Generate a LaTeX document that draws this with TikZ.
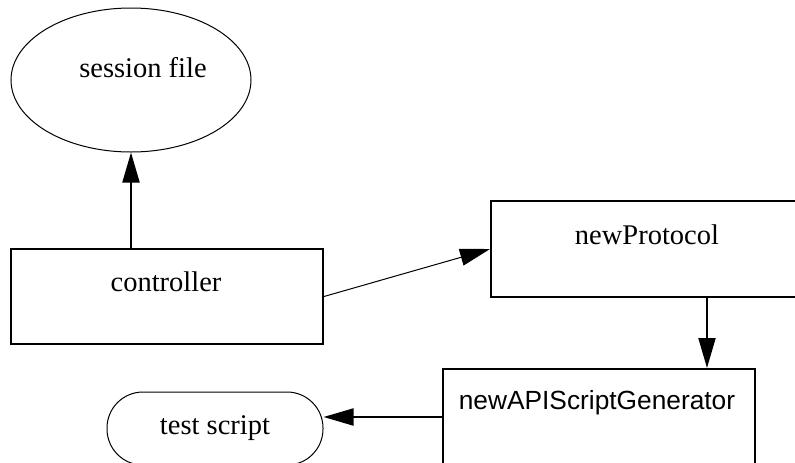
\documentclass[tikz,border=0pt]{standalone}
\usepackage{fontspec}
\setmainfont{Liberation Serif}
\setsansfont{Liberation Sans}
\usetikzlibrary{arrows.meta,shapes.geometric}
\tikzset{
  thickbox/.style={draw, line width=2pt, rectangle, inner sep=0pt},
  thinshape/.style={draw, line width=1pt, inner sep=0pt},
  lbl/.style={inner sep=0pt, font=\fontsize{28.5}{33}\selectfont},
  sanslbl/.style={inner sep=0pt, font=\sffamily\fontsize{26.3}{31}\selectfont},
  tip/.style={-{Triangle[length=30pt,width=17pt]}},
  heavy/.style={line width=2pt, tip},
  light/.style={line width=1pt, tip}
}
\begin{document}
\begin{tikzpicture}[x=1pt,y=-1pt]
\clip (0,0) rectangle (795,463);
\fill[white] (0,0) rectangle (795,463);
% nodes
\node[thinshape, ellipse, minimum width=240pt, minimum height=144pt] (sess) at (131,80) {};
\node[lbl] (sesst) at (143,68) {session file};
\node[thickbox, minimum width=312pt, minimum height=95pt] (ctrl) at (167,296.5) {};
\node[lbl] (ctrlt) at (166,282) {controller};
\node[thickbox, minimum width=329pt, minimum height=96pt] (np) at (655.5,249) {};
\node[lbl] (npt) at (647,235) {newProtocol};
\node[thickbox, minimum width=312pt, minimum height=101pt] (api) at (599,419.5) {};
\node[sanslbl] (apit) at (597,403) {newAPIScriptGenerator};
\node[thinshape, rectangle, rounded corners=36pt, minimum width=216pt, minimum height=73pt] (ts) at (215,428.5) {};
\node[lbl] (tst) at (215,428) {test script};
% helper coordinates
\coordinate (vx) at (707,0);
\coordinate (hy) at (0,417);
% connectors
\draw[heavy] (sess.south |- ctrl.north) -- (sess.south);
\draw[light] (ctrl.east) -- (np.west);
\draw[heavy] (vx |- np.south) -- (vx |- api.north);
\draw[heavy] (api.west |- hy) -- (ts.east |- hy);
\end{tikzpicture}
\end{document}
